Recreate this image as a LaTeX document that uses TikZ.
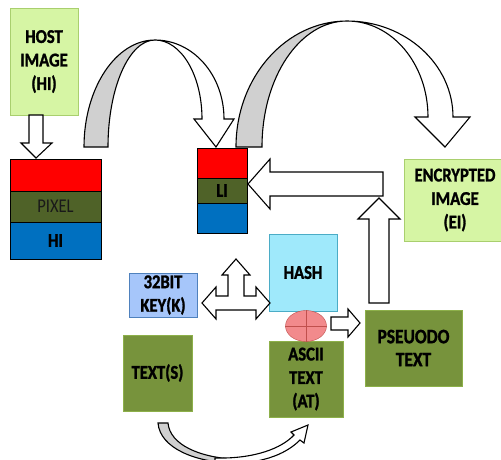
\documentclass[tikz,border=0pt]{standalone}
\usepackage{fontspec}
\setmainfont{Carlito}[FakeStretch=0.85, BoldFeatures={FakeBold=1.4}]
\usetikzlibrary{shapes.geometric}
\definecolor{hostgreen}{HTML}{D6F5A4}
\definecolor{hostline}{HTML}{A9CF6E}
\definecolor{olive}{HTML}{77933C}
\definecolor{oliveline}{HTML}{8DB04A}
\definecolor{darkolive}{HTML}{4F6228}
\definecolor{pxblue}{HTML}{0070C0}
\definecolor{hashcyan}{HTML}{9FE9FB}
\definecolor{hashline}{HTML}{4BACC6}
\definecolor{keyblue}{HTML}{A6C6FA}
\definecolor{keyline}{HTML}{4F81BD}
\definecolor{xorpink}{HTML}{F28A8C}
\definecolor{xorline}{HTML}{C0504D}
\definecolor{backgray}{HTML}{D0D0D0}

\begin{document}
\begin{tikzpicture}[x=1pt, y=-1pt,
    box/.style={draw, inner sep=0pt, align=center,
      font=\bfseries\fontsize{19.5}{23.5}\selectfont},
    layer/.style={draw=black, line width=0.8pt, inner sep=0pt,
      font=\fontsize{19.5}{23.5}\selectfont},
    blockarr/.style={draw, fill=white, line width=1.1pt, line join=miter},
    backarr/.style={draw, fill=backgray, line width=1.1pt}]
  \useasboundingbox (0,0) rectangle (501,459);

  % boxes
  \node[box, fill=hostgreen, draw=hostline, minimum width=68, minimum height=107]
    (hi) at (44,61.5) {HOST\\IMAGE\\(HI)};
  \node[layer, fill=red, minimum width=91, minimum height=32] (pxr) at (55.5,175) {};
  \node[layer, fill=darkolive, minimum width=91, minimum height=31,
    text=black!90] (pixel) at (55.5,206.5) {PIXEL};
  \node[layer, fill=pxblue, minimum width=91, minimum height=37,
    font=\bfseries\fontsize{19.5}{23.5}\selectfont] (hib) at (55.5,240.5) {HI};

  \node[layer, fill=red, minimum width=50, minimum height=30] (lir) at (222,163) {};
  \node[layer, fill=darkolive, minimum width=50, minimum height=25,
    font=\bfseries\fontsize{19.5}{23.5}\selectfont] (li) at (222,190.5) {LI};
  \node[layer, fill=pxblue, minimum width=50, minimum height=30] (lib) at (222,218) {};

  \node[box, fill=hostgreen, draw=hostline, minimum width=102, minimum height=82]
    (ei) at (455,200) {ENCRYPTED\\IMAGE\\(EI)};
  \node[box, fill=hashcyan, draw=hashline, minimum width=68, minimum height=77]
    (hash) at (303,272.5) {HASH};
  \node[box, fill=keyblue, draw=keyline, minimum width=68, minimum height=44]
    (key) at (163,295) {32BIT\\KEY(K)};
  \node[box, fill=olive, draw=oliveline, minimum width=69, minimum height=76]
    (text) at (157.5,373) {TEXT(S)};
  \node[box, fill=olive, draw=oliveline, minimum width=74, minimum height=76]
    (ascii) at (306,379) {ASCII\\TEXT\\(AT)};
  \node[box, fill=olive, draw=oliveline, minimum width=97, minimum height=76,
    font=\bfseries\fontsize{20.5}{23}\selectfont]
    (pseudo) at (413.5,348) {PSEUODO\\TEXT};

  % xor
  \node[ellipse, draw=xorline, fill=xorpink, minimum width=41, minimum height=31,
    inner sep=0pt] (xor) at (306,326) {};
  \draw[xorline] (xor.north) -- (xor.south);
  \draw[xorline] (xor.west) -- (xor.east);

  % HI -> pixel
  \draw[blockarr] (29,115) -- (43,115) -- (43,143) -- (52,143) -- (36,158)
    -- (21,143) -- (29,143) -- cycle;

  % pixel -> LI (curved)
  \draw[backarr] (84,147) .. controls (84,88) and (116,40) .. (155,40)
    .. controls (129,40) and (108,88) .. (108,147) -- cycle;
  \draw[blockarr] (155,40) .. controls (193,40) and (224,75) .. (224,119)
    -- (234,119) -- (216,147) -- (194,119) -- (202,119)
    .. controls (202,75) and (181,40) .. (155,40) -- cycle;

  % LI -> EI (curved)
  \draw[backarr] (236,147) .. controls (236,77) and (286,21) .. (347,21)
    .. controls (300,21) and (262,77) .. (262,147) -- cycle;
  \draw[blockarr] (347,21) .. controls (405,21) and (453,64) .. (453,117)
    -- (470,117) -- (445,147) -- (415,117) -- (428,117)
    .. controls (428,64) and (392,21) .. (347,21) -- cycle;

  % pseudo -> LI
  \draw[blockarr] (383,172) -- (383,196) -- (270,196) -- (270,209) -- (248,184)
    -- (270,159) -- (270,172) -- cycle;
  \draw[blockarr] (369,303) -- (389,303) -- (389,219) -- (400,219) -- (379,198)
    -- (358,219) -- (369,219) -- cycle;

  % key arrow
  \draw[blockarr] (202,303) -- (216,287) -- (216,296) -- (228,296) -- (228,275)
    -- (222,275) -- (236,259) -- (250,275) -- (244,275) -- (244,296)
    -- (256,296) -- (256,287) -- (270,303) -- (256,319) -- (256,310)
    -- (216,310) -- (216,319) -- cycle;

  % xor -> pseudo
  \draw[blockarr] (331,317) -- (348,317) -- (348,309) -- (360,323) -- (348,337)
    -- (348,330) -- (331,330) -- cycle;

  % text -> ascii (curved)
  \draw[backarr] (158,423) .. controls (160,448) and (195,462) .. (232,463)
    -- (232,459) .. controls (200,457) and (170,445) .. (168,423) -- cycle;
  \draw[blockarr] (215,458) .. controls (255,459) and (282,448) .. (294,435)
    -- (291,432) -- (308,425) -- (304,443) -- (300,440)
    .. controls (285,455) and (260,465) .. (215,464) -- cycle;
\end{tikzpicture}
\end{document}
